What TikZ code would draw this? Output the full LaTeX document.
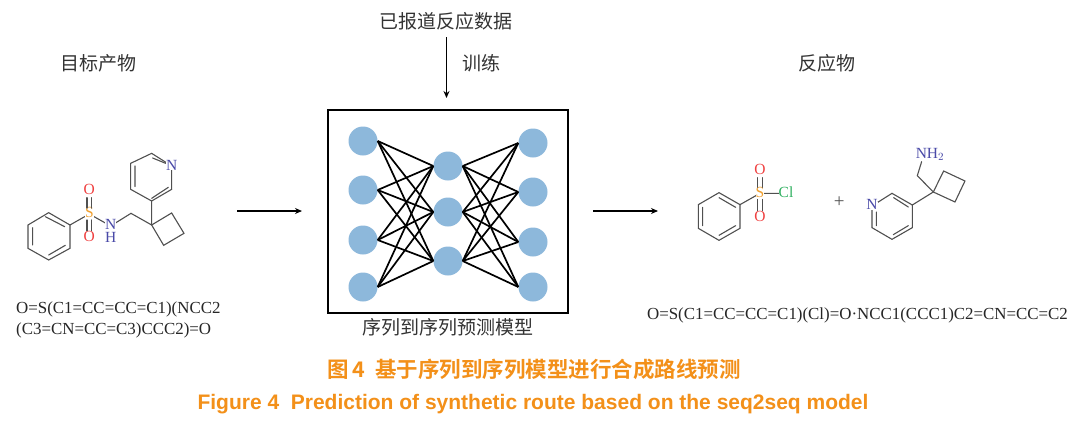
\documentclass[tikz,border=0pt]{standalone}
\usepackage{fontspec}
\setmainfont{Liberation Serif}
\newfontfamily\cjk{Noto Sans CJK SC}
\newfontfamily\cjkb{Noto Sans CJK SC Bold}
\newfontfamily\capsans{Liberation Sans}[BoldFont={Liberation Sans Bold}]
\usetikzlibrary{arrows.meta}
\definecolor{capcol}{HTML}{F39019}
\definecolor{neuron}{HTML}{8DB8DB}
\definecolor{bondc}{HTML}{505050}
\definecolor{atomN}{HTML}{4A4AA8}
\definecolor{atomO}{HTML}{F04040}
\definecolor{atomS}{HTML}{F0A030}
\definecolor{atomCl}{HTML}{30B060}
\tikzset{
 x=1pt,y=-1pt,
 neuronnode/.style={circle,fill=neuron,minimum size=29pt,inner sep=0pt},
 link/.style={black,line width=1.7pt},
 flow/.style={black,line width=1.4pt,-{Stealth[length=7pt,width=6pt]}},
 label/.style={font=\cjk\fontsize{19}{19}\selectfont,text=black!80,inner sep=0pt},
 smiles/.style={font=\fontsize{16.9}{21}\selectfont,text=black!85,inner sep=0pt,align=left},
 bond/.style={bondc,line width=1.1pt,line cap=round},
 atom/.style={inner sep=0pt,font=\fontsize{15.5}{15.5}\selectfont,fill=white,text height=8pt,text depth=0pt},
}
\begin{document}
\begin{tikzpicture}
\useasboundingbox (0,0) rectangle (1080,421);
\fill[white] (0,0) rectangle (1080,421);
% texts
\node[label] (tTarget) at (98,63) {目标产物};
\node[label] (tData) at (446,21) {已报道反应数据};
\node[label] (tTrain) at (481,63) {训练};
\node[label] (tReact) at (827,63) {反应物};
\node[label] (tModel) at (448,327) {序列到序列预测模型};
% box
\node[draw=black,line width=2pt,minimum width=240pt,minimum height=203pt,inner sep=0pt] (box) at (447.75,211) {};
% neurons
\foreach \n/\x/\y in {a1/363/141,a2/363/190,a3/363/240,a4/363/287,
  b1/448/166,b2/448/212,b3/448/261,
  c1/533/143,c2/533/192,c3/533/242,c4/533/287}
  \node[neuronnode] (\n) at (\x,\y) {};
\foreach \a in {a1,a2,a3,a4} \foreach \b in {b1,b2,b3}
  \draw[link] (\a.east) -- (\b.west);
\foreach \c in {c1,c2,c3,c4} \foreach \b in {b1,b2,b3}
  \draw[link] (\b.east) -- (\c.west);
% arrows
\coordinate (inA) at (237,211);
\coordinate (inB) at (302,211);
\coordinate (outA) at (593,211);
\coordinate (outB) at (658,211);
\coordinate (topA) at (446.5,37);
\coordinate (topB) at (446.5,98);
\draw[flow] (inA) -- (inB);
\draw[flow] (outA) -- (outB);
\draw[flow] (topA) -- (topB);
% molecule 1 : px = x/3, 130+y/3
\begin{scope}[shift={(0,130)},x=0.3333pt,y=-0.3333pt]
 \foreach \n/\x/\y in {p1/146/248,p2/210/285,p3/210/355,p4/146/390,p5/84/355,p6/84/285,
   q/393/250,k/455/285,k1/515/249,k2/552/310,k3/491/346,
   r1/455/213,r2/392/178,r3/392/100,r4/455/70,r6/515/178}
   \coordinate (\n) at (\x,\y);
 \draw[bond] (p1)--(p2)--(p3)--(p4)--(p5)--(p6)--cycle;
 \draw[bond] (136,260)--(194,290) (196,346)--(146,375) (98,345)--(98,293);
 \draw[bond] (k)--(k1)--(k2)--(k3)--cycle;
 \draw[bond] (q)--(k) (k)--(r1);
 \draw[bond] (r1)--(r2)--(r3)--(r4) (r6)--(r1);
 \draw[bond] (405,170)--(405,108) (455,205)--(505,172) (458,84)--(497,100);
 \draw[bond] (p2)--(268,252)--(332,288)--(q) (r4)--(515,108)--(r6);
 \node[atom,text=atomS] (mS) at (268,252) {S};
 \node[atom,text=atomO] (mO1) at (268,182) {O};
 \node[atom,text=atomO] (mO2) at (268,323) {O};
 \node[atom,text=atomN] (mN) at (332,286) {N};
 \node[atom,text=atomN,fill=none] (mH) at (332,325) {H};
 \node[atom,text=atomN] (mN2) at (515,108) {N};
 \draw[bond] (261,203)--(261,234) (275,203)--(275,234) (261,270)--(261,302) (275,270)--(275,302);
\end{scope}
\node[smiles,anchor=north west] (s1) at (16,302) {O=S(C1=CC=CC=C1)(NCC2\\(C3=CN=CC=C3)CCC2)=O};
% molecule 2 : px = 680+x/3, 130+y/3
\begin{scope}[shift={(680,130)},x=0.3333pt,y=-0.3333pt]
 \foreach \n/\x/\y in {u1/117/188,u2/180/224,u3/180/295,u4/117/331,u5/55/295,u6/55/224,
   v2/636/190,v3/697/225,v4/697/293,v5/636/328,v6/576/293,
   w/760/186,w1/791/123,w2/855/153,w3/825/216,w4/712/137}
   \coordinate (\n) at (\x,\y);
 \draw[bond] (u1)--(u2)--(u3)--(u4)--(u5)--(u6)--cycle;
 \draw[bond] (117,203)--(167,232) (167,287)--(117,316) (68,287)--(68,232);
 \draw[bond] (w)--(w1)--(w2)--(w3)--cycle;
 \draw[bond] (w)--(v3) (w)--(w4);
 \draw[bond] (v2)--(v3)--(v4)--(v5)--(v6);
 \draw[bond] (641,203)--(685,231) (685,287)--(640,314) (589,287)--(589,246);
 \draw[bond] (u2)--(240,190)--(300,190) (v2)--(576,228)--(v6) (w4)--(725,95);
 \node[atom,text=atomS] (nS) at (240,190) {S};
 \node[atom,text=atomO] (nO1) at (240,122) {O};
 \node[atom,text=atomO] (nO2) at (240,263) {O};
 \node[atom,text=atomCl] (nCl) at (318,190) {Cl};
 \node[atom,text=atomN] (nN) at (576,228) {N};
 \node[atom,text=atomN,fill=none] (nNH) at (750,72) {NH$_2$};
 \node[inner sep=0pt,font=\fontsize{19}{19}\selectfont,text=bondc] (plus) at (478,216) {+};
 \draw[bond] (233,143)--(233,172) (247,143)--(247,172) (233,208)--(233,242) (247,208)--(247,242);
\end{scope}
\node[smiles,anchor=center] (s2) at (857.5,315) {O=S(C1=CC=CC=C1)(Cl)=O·NCC1(CCC1)C2=CN=CC=C2};
% caption
\node[inner sep=0pt,text=capcol,font=\cjkb\fontsize{21.5}{21.5}\selectfont] (cap1) at (534,369) {图\,4\ \ 基于序列到序列模型进行合成路线预测};
\node[inner sep=0pt,text=capcol,font=\capsans\bfseries\fontsize{21}{21}\selectfont] (cap2) at (533,404) {Figure 4\ \ Prediction of synthetic route based on the seq2seq model};
\end{tikzpicture}
\end{document}
